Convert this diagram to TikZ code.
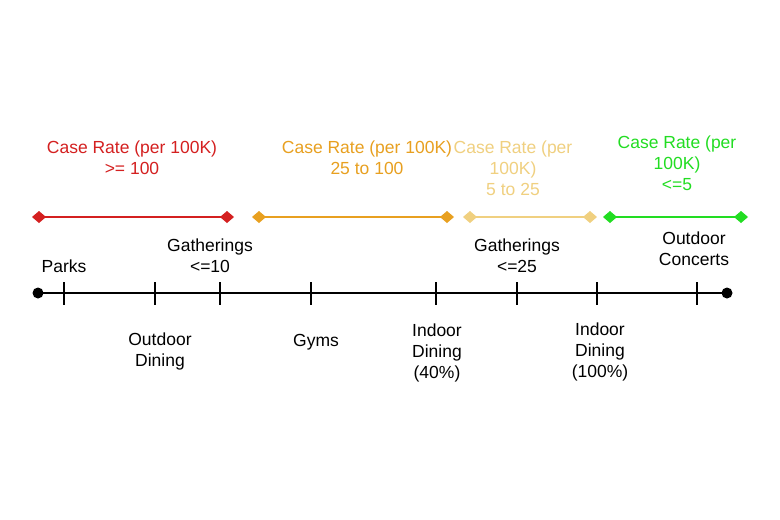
\documentclass[tikz,border=0pt]{standalone}
\usepackage{fontspec}
\setmainfont{Liberation Sans}
\usetikzlibrary{arrows.meta}
\definecolor{cred}{HTML}{D42020}
\definecolor{corange}{HTML}{E8A020}
\definecolor{cyellow}{HTML}{F0D080}
\definecolor{cgreen}{HTML}{22DD22}
\begin{document}
\begin{tikzpicture}[x=1pt,y=-1pt,
  lbl/.style={align=center,font=\fontsize{17.5}{21}\selectfont,inner sep=0pt},
  rangeline/.style={line width=2.2pt,{Diamond[length=14pt,width=12pt]}-{Diamond[length=14pt,width=12pt]}},
  tickline/.style={line width=1.3pt}]
\useasboundingbox[fill=white] (0,0) rectangle (780,520);
\coordinate (L) at (38,293); \coordinate (R) at (727,293);
\draw[line width=1.8pt] (L) -- (R);
\fill (L) circle (5.5); \fill (R) circle (5.5);
\foreach \x in {64,155,220,311,436,517,597,697}
  \draw[tickline] (\x,282) -- (\x,305);
\coordinate (r1) at (32,217); \coordinate (r2) at (234,217);
\coordinate (o1) at (252,217); \coordinate (o2) at (454,217);
\coordinate (y1) at (463,217); \coordinate (y2) at (597,217);
\coordinate (g1) at (603,217); \coordinate (g2) at (748,217);
\draw[rangeline,cred] (r1) -- (r2);
\draw[rangeline,corange] (o1) -- (o2);
\draw[rangeline,cyellow] (y1) -- (y2);
\draw[rangeline,cgreen] (g1) -- (g2);
\node[lbl,text=cred] (tr) at (132,158) {Case Rate (per 100K)\\>= 100};
\node[lbl,text=corange] (to) at (367,158) {Case Rate (per 100K)\\25 to 100};
\node[lbl,text=cyellow] (ty) at (513,168) {Case Rate (per\\100K)\\5 to 25};
\node[lbl,text=cgreen] (tg) at (677,163) {Case Rate (per\\100K)\\<=5};
\node[lbl] (parks) at (64,266) {Parks};
\node[lbl] (g10) at (210,256) {Gatherings\\<=10};
\node[lbl] (g25) at (517,256) {Gatherings\\<=25};
\node[lbl] (oc) at (694,249) {Outdoor\\Concerts};
\node[lbl] (od) at (160,351) {Outdoor\\Dining};
\node[lbl] (gyms) at (316,342) {Gyms};
\node[lbl] (id40) at (437,353) {Indoor\\Dining\\(40\%)};
\node[lbl] (id100) at (600,352) {Indoor\\Dining\\(100\%)};
\end{tikzpicture}
\end{document}
